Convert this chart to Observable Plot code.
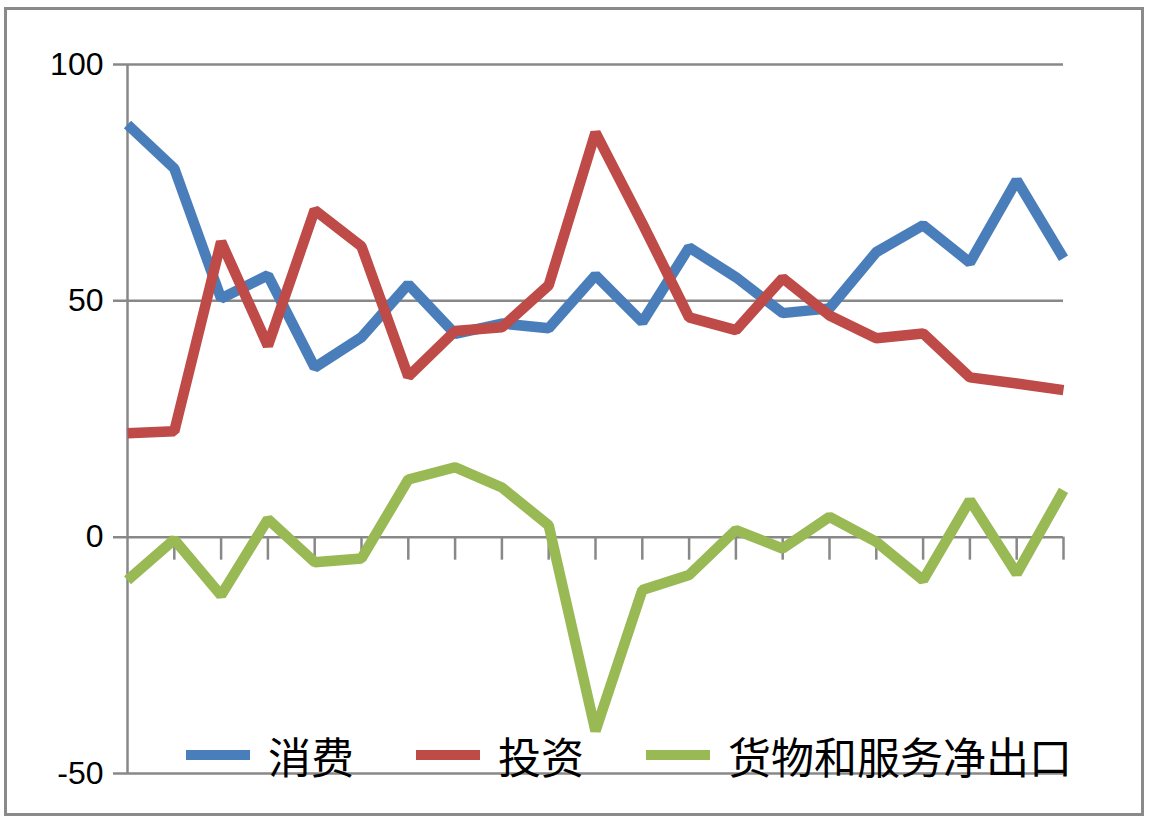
<!DOCTYPE html>
<html>
<head>
<meta charset="utf-8">
<script src="https://cdn.jsdelivr.net/npm/d3@7"></script>
<script src="https://cdn.jsdelivr.net/npm/@observablehq/plot@0.6"></script>
<style>
  html, body { margin: 0; padding: 0; background: #fff; }
  #wrap { position: relative; width: 1150px; height: 822px; overflow: hidden; }
  #frame { position: absolute; left: 4px; top: 7px; width: 1140px; height: 809px; box-sizing: border-box; border: 3px solid #8a8a8a; pointer-events: none; }
  #legend { position: absolute; left: 186px; top: 733px; height: 44px; display: flex; align-items: center; font-family: "Noto Sans CJK SC", sans-serif; font-size: 43px; line-height: 44px; color: #000; }
  .item { display: flex; align-items: center; margin-right: 62px; }
  .sw { width: 64px; height: 10px; margin-right: 18px; }
</style>
</head>
<body>
<div id="wrap"><div id="frame"></div></div>
<script>
// Series names (legend order)
const seriesNames = ["消费", "投资", "货物和服务净出口"];
const seriesColors = ["#4a7ebb", "#be4b48", "#98b954"];

// 21 periods (no x labels in the original)
const periods = d3.range(21);

// Values (percent contribution)
const consumption = [87.3, 78.0, 50.5, 55.4, 35.9, 42.3, 53.5, 43.0, 45.2, 44.2, 55.4, 45.5, 61.3, 55.0, 47.4, 48.4, 60.3, 66.0, 58.1, 75.5, 59.0];
const investment  = [22.0, 22.4, 62.5, 40.5, 69.2, 61.5, 34.0, 43.6, 44.4, 53.3, 85.6, 66.4, 46.5, 43.8, 54.8, 46.9, 42.1, 43.1, 33.8, 32.5, 31.1];
const netExports  = [-9.1, -0.5, -12.3, 3.8, -5.3, -4.5, 12.2, 14.8, 10.5, 2.5, -41.0, -11.2, -8.0, 1.5, -2.4, 4.3, -1.0, -9.1, 7.8, -7.7, 9.9];

// Y ticks
const yTicks = [-50, 0, 50, 100];
const yDomain = [-50, 100];

const seriesValues = [consumption, investment, netExports];
const data = [];
seriesValues.forEach((vals, s) => {
  vals.forEach((v, i) => data.push({series: seriesNames[s], i: periods[i], value: v}));
});

const grid = "#888888";

const chart = Plot.plot({
  width: 1150,
  height: 822,
  marginLeft: 127,
  marginRight: 87,
  marginTop: 64,
  marginBottom: 49,
  style: {background: "transparent", fontFamily: "'Liberation Sans', Arial, sans-serif"},
  x: {type: "linear", domain: [periods[0], periods[periods.length - 1]], axis: null},
  y: {domain: yDomain, axis: null},
  color: {domain: seriesNames, range: seriesColors},
  marks: [
    Plot.ruleY(yTicks, {stroke: grid, strokeWidth: 2.5, insetLeft: -14}),
    Plot.ruleX([periods[0]], {y1: yDomain[0], y2: yDomain[1], stroke: grid, strokeWidth: 2.5}),
    Plot.ruleX(periods.slice(1), {x: d => d, y1: 0, y2: 0, insetBottom: -23, stroke: grid, strokeWidth: 2.5}),
    Plot.axisY(yTicks, {tickSize: 0, tickPadding: 24, fontSize: 32, fill: "#000", label: null, tickFormat: d => String(d)}),
    Plot.line(data, {x: "i", y: "value", z: "series", stroke: "series", strokeWidth: 10.5, strokeLinejoin: "miter", strokeLinecap: "butt"})
  ]
});

const wrap = document.getElementById("wrap");
chart.style.position = "absolute";
chart.style.left = "0px";
chart.style.top = "0px";
wrap.insertBefore(chart, wrap.firstChild);

const legend = document.createElement("div");
legend.id = "legend";
seriesNames.forEach((name, k) => {
  const item = document.createElement("div");
  item.className = "item";
  const sw = document.createElement("div");
  sw.className = "sw";
  sw.style.background = seriesColors[k];
  const t = document.createElement("span");
  t.textContent = name;
  item.appendChild(sw);
  item.appendChild(t);
  legend.appendChild(item);
});
wrap.appendChild(legend);
</script>
</body>
</html>
